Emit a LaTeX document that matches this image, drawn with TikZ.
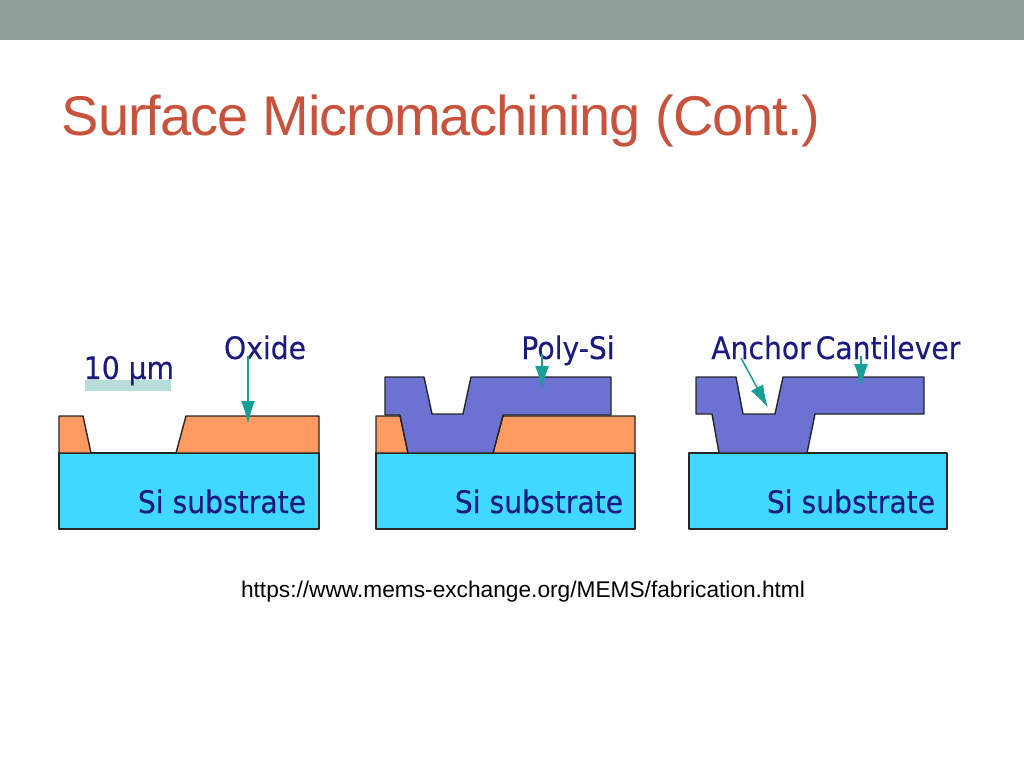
\documentclass[tikz,border=0pt]{standalone}
\usepackage{fontspec}
\setmainfont{Liberation Sans}
\newfontfamily\labelfont[FakeStretch=0.91,FakeBold=0.25]{DejaVu Sans}
\newfontfamily\titlefont[LetterSpace=-1.9]{Liberation Sans}
\usepackage{xcolor}
\definecolor{band}{HTML}{8F9F98}
\definecolor{titlered}{HTML}{C9523C}
\definecolor{substrate}{HTML}{40D8FF}
\definecolor{oxide}{HTML}{FF9A60}
\definecolor{poly}{HTML}{6B72D2}
\definecolor{pointer}{HTML}{169E98}
\definecolor{scalebar}{HTML}{B8DEDC}
\definecolor{labelblue}{HTML}{1A1A80}
\usetikzlibrary{arrows.meta}
\tikzset{
  layer/.style={draw=black!85,line width=1.4pt,line join=round},
  lbl/.style={font=\labelfont\fontsize{31}{36}\selectfont,text=labelblue,inner sep=0pt,anchor=base},
  pointerarrow/.style={draw=pointer,line width=1.5pt,-{Latex[length=23pt,width=14pt]}}
}
\begin{document}
\begin{tikzpicture}[x=1pt,y=-1pt]
\useasboundingbox (0,0) rectangle (1024,768);
\fill[band] (0,0) rectangle (1024,40);
\node[text=titlered,inner sep=0pt] (title) at (441,121) {\titlefont\fontsize{56}{60}\selectfont Surface Micromachining (Cont.)};
\node[inner sep=0pt] (source) at (523,592) {\fontsize{22.7}{26}\selectfont https://www.mems-exchange.org/MEMS/fabrication.html};

% first step
\fill[scalebar] (85,380) rectangle (171,391);
\draw[layer,fill=substrate] (59,453) rectangle (319,529);
\draw[layer,fill=oxide] (59,453) -- (59,416) -- (83,416) -- (91,453) -- cycle;
\draw[layer,fill=oxide] (176,453) -- (186,416) -- (319,416) -- (319,453) -- cycle;
\node[lbl] (scale) at (129,379) {10 µm};
\node[lbl] (oxidelabel) at (265,359) {Oxide};
\node[lbl] (si1) at (222,513) {Si substrate};
\coordinate (oxidetip) at (248,424);
\draw[pointerarrow] (oxidelabel.south -| oxidetip) ++(0,-4) -- (oxidetip);

% second step
\draw[layer,fill=substrate] (376,453) rectangle (635,529);
\draw[layer,fill=oxide] (376,453) -- (376,416) -- (400,416) -- (408,453) -- cycle;
\draw[layer,fill=oxide] (493,453) -- (503,416) -- (635,416) -- (635,453) -- cycle;
\draw[layer,fill=poly] (385,377) -- (424,377) -- (432,414) -- (463,414) -- (471,377) -- (611,377) -- (611,415) -- (503,415)
  -- (493,453) -- (408,453) -- (400,415) -- (385,415) -- cycle;
\node[lbl] (polylabel) at (568,359) {Poly-Si};
\node[lbl] (si2) at (539,513) {Si substrate};
\coordinate (polytip) at (542,389);
\draw[pointerarrow] (polylabel.south -| polytip) ++(0,-12) -- (polytip);

% third step
\draw[layer,fill=substrate] (689,453) rectangle (947,529);
\draw[layer,fill=poly] (696,377) -- (736,377) -- (743,414) -- (775,414) -- (783,377) -- (924,377) -- (924,414) -- (815,414)
  -- (807,453) -- (719,453) -- (712,414) -- (696,414) -- cycle;
\node[lbl] (anchorlabel) at (761,359) {Anchor};
\node[lbl] (cantlabel) at (888,359) {Cantilever};
\node[lbl] (si3) at (851,513) {Si substrate};
\coordinate (anchorstart) at (741,358);
\coordinate (anchortip) at (768,408);
\coordinate (canttip) at (861,387);
\draw[pointerarrow] (anchorstart) -- (anchortip);
\draw[pointerarrow] (cantlabel.south -| canttip) ++(0,-4) -- (canttip);
\end{tikzpicture}
\end{document}
